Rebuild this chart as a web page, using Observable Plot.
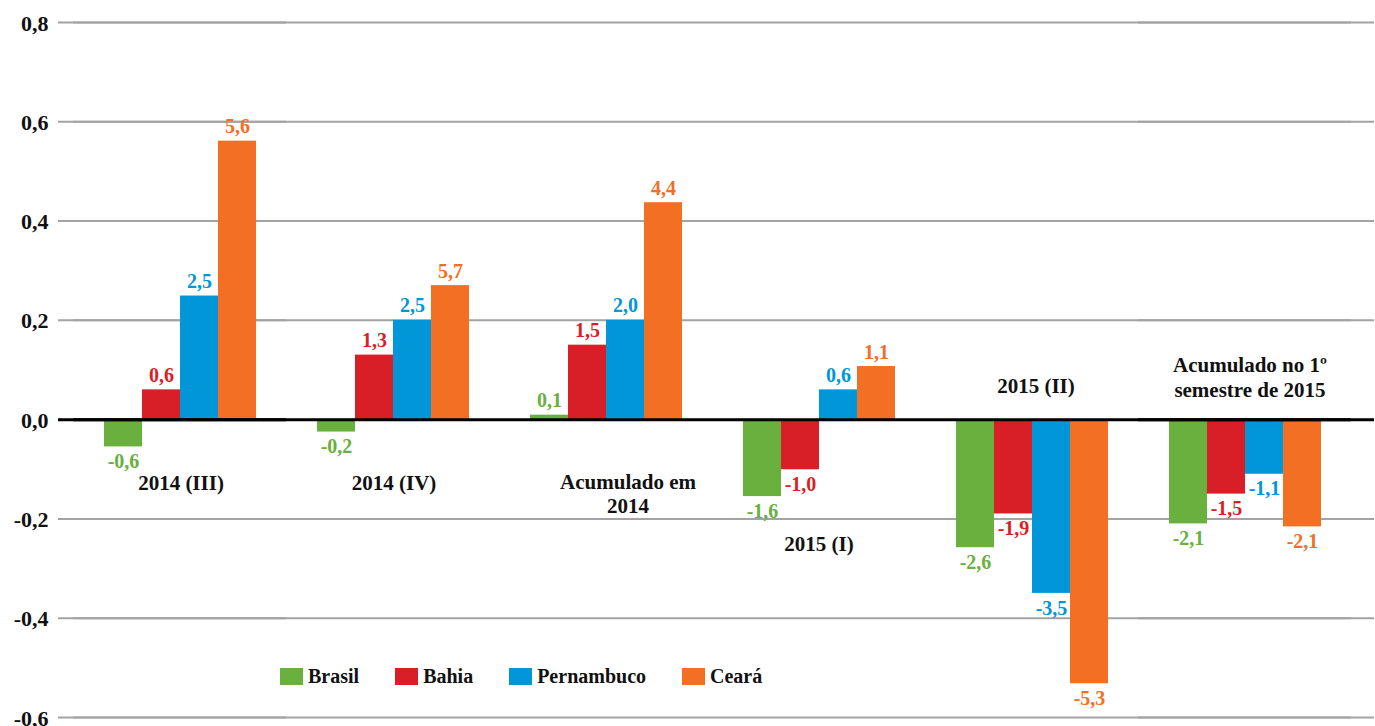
<!DOCTYPE html>
<html>
<head>
<meta charset="utf-8">
<script src="https://cdn.jsdelivr.net/npm/d3@7"></script>
<script src="https://cdn.jsdelivr.net/npm/@observablehq/plot@0.6"></script>
<style>
  body { margin: 0; background: #fff; }
  #wrap { position: relative; width: 1375px; height: 726px; font-family: 'Times New Roman', 'Liberation Serif', serif; font-weight: bold; }
  #legend { position: absolute; left: 280px; top: 665px; display: flex; align-items: center; font-size: 20px; color: #111; font-family: 'Times New Roman', 'Liberation Serif', serif; font-weight: bold; }
  .item { display: flex; align-items: center; margin-right: 36px; }
  .sw { width: 23px; height: 17px; margin-right: 5px; }
</style>
</head>
<body>
<div id="wrap"></div>
<script>
// ---- data ----
const categories = ["2014 (III)", "2014 (IV)", "Acumulado em 2014", "2015 (I)", "2015 (II)", "Acumulado no 1º semestre de 2015"];
const categoryText = ["2014 (III)", "2014 (IV)", "Acumulado em\n2014", "2015 (I)", "2015 (II)", "Acumulado no 1º\nsemestre de 2015"];
const series = ["Brasil", "Bahia", "Pernambuco", "Ceará"];
const colors = ["#69b03f", "#d81e27", "#0096d8", "#f26f24"];

// bar heights (axis units)
const brasilBars     = [-0.055, -0.025, 0.009, -0.155, -0.258, -0.210];
const bahiaBars      = [ 0.060,  0.130, 0.150, -0.101, -0.190, -0.150];
const pernambucoBars = [ 0.249,  0.200, 0.200,  0.060, -0.350, -0.110];
const cearaBars      = [ 0.561,  0.270, 0.437,  0.107, -0.532, -0.216];

// printed value labels
const brasilLabels     = [-0.6, -0.2, 0.1, -1.6, -2.6, -2.1];
const bahiaLabels      = [ 0.6,  1.3, 1.5, -1.0, -1.9, -1.5];
const pernambucoLabels = [ 2.5,  2.5, 2.0,  0.6, -3.5, -1.1];
const cearaLabels      = [ 5.6,  5.7, 4.4,  1.1, -5.3, -2.1];

const yTicks = [-0.6, -0.4, -0.2, 0.0, 0.2, 0.4, 0.6, 0.8];

// annotation placement for category names (axis units / pixel nudge)
const categoryLabelY  = [-0.125, -0.125, -0.148, -0.248, 0.070, 0.086];
const categoryLabelDx = [1, 1, 22, 0, 4, 5];

// ---- build table ----
const barSets = [brasilBars, bahiaBars, pernambucoBars, cearaBars];
const labelSets = [brasilLabels, bahiaLabels, pernambucoLabels, cearaLabels];
const rows = [];
categories.forEach((c, i) => {
  series.forEach((s, j) => {
    rows.push({cat: c, series: s, value: barSets[j][i], label: labelSets[j][i]});
  });
});
const fmt = (v, d) => v.toFixed(d).replace(".", ",");

const font = "'Times New Roman', 'Liberation Serif', serif";
const gridStyle = {stroke: "#a3a3a3", strokeWidth: 2};

const catMarks = categories.map((c, i) =>
  Plot.text([{cat: c, y: categoryLabelY[i], t: categoryText[i]}], {
    fx: "cat", y: "y", text: "t", frameAnchor: "middle", dx: categoryLabelDx[i],
    fontSize: 21, fontWeight: "bold", fill: "#111", lineHeight: 1.18, fontFamily: font
  })
);

const chart = Plot.plot({
  width: 1375,
  height: 726,
  marginLeft: 72,
  marginRight: 23,
  marginTop: 22,
  marginBottom: 9,
  style: {fontFamily: font, fontWeight: "bold", background: "#fff"},
  fx: {domain: categories, paddingInner: 0, paddingOuter: 0, axis: null, label: null},
  x: {domain: series, paddingInner: 0, paddingOuter: 0.778, axis: null},
  y: {domain: [-0.6, 0.8]},
  color: {domain: series, range: colors},
  marks: [
    Plot.ruleY(yTicks, gridStyle),
    Plot.ruleY(yTicks, {...gridStyle, facetAnchor: "left", insetLeft: -15}),
    Plot.ruleY(yTicks, {...gridStyle, facetAnchor: "right", insetRight: -23}),
    Plot.axisY({ticks: yTicks, tickFormat: d => fmt(d, 1), tickSize: 0, tickPadding: 10, dx: -15, dy: 1, fontSize: 22, fontWeight: "bold", fill: "#111", label: null, fontFamily: font}),
    Plot.barY(rows, {fx: "cat", x: "series", y: "value", fill: "series"}),
    Plot.ruleY([0], {stroke: "#000", strokeWidth: 3}),
    Plot.ruleY([0], {stroke: "#000", strokeWidth: 3, facetAnchor: "left", insetLeft: -15}),
    Plot.ruleY([0], {stroke: "#000", strokeWidth: 3, facetAnchor: "right", insetRight: -23}),
    Plot.text(rows, {filter: d => d.value >= 0, fx: "cat", x: "series", y: "value", text: d => fmt(d.label, 1), fill: "series", lineAnchor: "bottom", dy: -8, fontSize: 20, fontWeight: "bold", fontFamily: font}),
    Plot.text(rows, {filter: d => d.value < 0, fx: "cat", x: "series", y: "value", text: d => fmt(d.label, 1), fill: "series", lineAnchor: "top", dy: 7, fontSize: 20, fontWeight: "bold", fontFamily: font}),
    ...catMarks
  ]
});

const wrap = document.getElementById("wrap");
wrap.appendChild(chart);

const legend = document.createElement("div");
legend.id = "legend";
series.forEach((s, i) => {
  const item = document.createElement("div");
  item.className = "item";
  const sw = document.createElement("span");
  sw.className = "sw";
  sw.style.background = colors[i];
  const tx = document.createElement("span");
  tx.textContent = s;
  item.appendChild(sw);
  item.appendChild(tx);
  legend.appendChild(item);
});
wrap.appendChild(legend);
</script>
</body>
</html>
